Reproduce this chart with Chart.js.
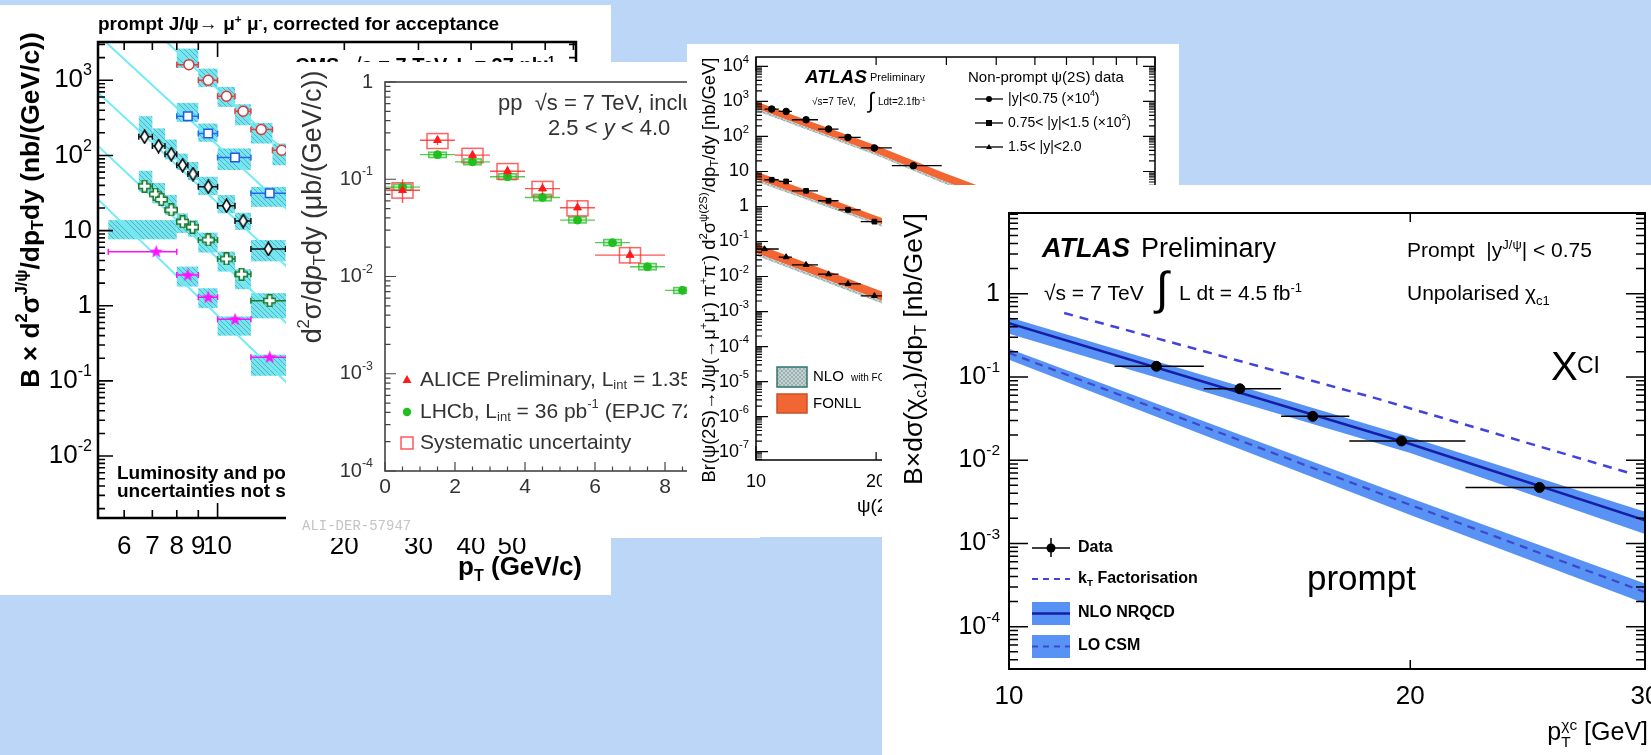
<!DOCTYPE html>
<html>
<head>
<meta charset="utf-8">
<title>Quarkonium production cross sections</title>
<script src="https://cdn.jsdelivr.net/npm/chart.js@4.4.1/dist/chart.umd.min.js"></script>
<style>
  html, body { margin: 0; padding: 0; }
  body { width: 1651px; height: 755px; background: #bbd6f7; position: relative; overflow: hidden; }
  .panel { position: absolute; background: #fff; overflow: hidden; }
  .panel canvas { display: block; }
</style>
</head>
<body>
<div class="panel" style="left:0px;top:5px;width:611px;height:590px"><canvas id="cms" width="611" height="590"></canvas></div>
<div class="panel" style="left:286px;top:62px;width:474px;height:476px"><canvas id="alice" width="474" height="476"></canvas></div>
<div class="panel" style="left:687px;top:44px;width:492px;height:493px"><canvas id="psi2s" width="492" height="493"></canvas></div>
<div class="panel" style="left:882px;top:185px;width:769px;height:570px"><canvas id="chic1" width="769" height="570"></canvas></div>
<script>
// ---------- CMS prompt J/psi, left panel ----------
const CMS_X_LABELS = [6, 7, 8, 9, 10, 20, 30, 40, 50];
const CMS_Y_LABELS = [1e-2, 1e-1, 1, 10, 100, 1000];

const CMS_RED_PT  = [8.55, 9.5, 10.5, 11.5, 12.7, 14.2];
const CMS_RED_VAL = [1615, 1000, 614, 387, 221, 117];
const CMS_RED_BIN = [[8, 9], [9, 10], [10, 11], [11, 12], [12, 13.5], [13.5, 15]];
const CMS_RED_BOX = [[8, 9, 1455, 2640], [9, 10, 815, 1430], [10, 11, 442, 815], [11, 12, 252, 480], [12, 13.5, 144, 271], [13.5, 15, 74, 144]];

const CMS_BLUE_PT  = [8.5, 9.5, 11, 13.3];
const CMS_BLUE_VAL = [333, 196, 94, 31.3];
const CMS_BLUE_BIN = [[8, 9], [9, 10], [10, 12], [12, 15]];
const CMS_BLUE_BOX = [[8, 9, 279, 500], [9, 10, 152, 266], [10, 12, 64, 124], [12, 15, 20.7, 38]];

const CMS_BLACK_PT  = [6.71, 7.24, 7.76, 8.26, 8.74, 9.5, 10.5, 11.5, 13.2];
const CMS_BLACK_VAL = [177, 133, 104, 74, 56.5, 38.3, 21.4, 13.4, 5.7];
const CMS_BLACK_BIN = [[6.5, 7], [7, 7.5], [7.5, 8], [8, 8.5], [8.5, 9], [9, 10], [10, 11], [11, 12], [12, 14.5]];
const CMS_BLACK_BOX = [[6.5, 7, 177, 333], [7, 7.5, 124, 229], [7.5, 8, 88.5, 163], [8, 8.5, 64, 106], [8.5, 9, 47, 82], [9, 10, 29.7, 52], [10, 11, 17, 29.7], [11, 12, 10.2, 17.3], [12, 14.5, 3.9, 7.5]];

const CMS_GREEN_PT  = [6.71, 7.12, 7.35, 7.76, 8.26, 8.72, 9.5, 10.5, 11.4, 13.3];
const CMS_GREEN_VAL = [39, 30.6, 26, 18.8, 13.1, 11.1, 7.5, 4.2, 2.63, 1.17];
const CMS_GREEN_BIN = [[6.5, 7], [7, 7.25], [7.25, 7.5], [7.5, 8], [8, 8.5], [8.5, 9], [9, 10], [10, 11], [11, 12], [12, 15]];
const CMS_GREEN_BOX = [[6.5, 7, 32.9, 62.5], [7, 7.5, 23, 43], [7.5, 8, 16.1, 29.7], [8, 8.5, 9.3, 17], [8.5, 9, 8.3, 13.8], [9, 10, 5.1, 9.4], [10, 11, 2.85, 5.25], [11, 12, 1.66, 3.06], [12, 15, 0.68, 1.47]];

const CMS_MAG_PT  = [7.15, 8.5, 9.5, 11, 13.3];
const CMS_MAG_VAL = [5.25, 2.57, 1.3, 0.66, 0.207];
const CMS_MAG_BIN = [[5.5, 8], [8, 9], [9, 10], [10, 12], [12, 15]];
const CMS_MAG_BOX = [[5.5, 8, 7.65, 13.8], [8, 9, 1.8, 3.32], [9, 10, 0.93, 1.71], [10, 12, 0.4, 0.72], [12, 15, 0.117, 0.223]];

// straight theory lines (log-log), read at both ends
const CMS_LINE_PT = [5.2, 20];
const CMS_RED_LINE = [22600, 21];
const CMS_BLUE_LINE = [4000, 3.8];
const CMS_BLACK_LINE = [685, 0.65];
const CMS_GREEN_LINE = [134, 0.11];
const CMS_MAG_LINE = [26, 0.017];

// ---------- ALICE / LHCb inclusive J/psi ----------
const ALICE_X_LABELS = [0, 2, 4, 6, 8, 10];
const ALICE_Y_LABELS = [1e-4, 1e-3, 1e-2, 1e-1, 1];
const ALICE_PT   = [0.5, 1.5, 2.5, 3.5, 4.5, 5.5, 7.0];
const ALICE_BIN  = [[0, 1], [1, 2], [2, 3], [3, 4], [4, 5], [5, 6], [6, 8]];
const ALICE_VAL  = [0.077, 0.252, 0.177, 0.121, 0.080, 0.051, 0.0166];
const ALICE_STAT = [[0.057, 0.100], [0.225, 0.28], [0.158, 0.198], [0.105, 0.138], [0.069, 0.093], [0.042, 0.061], [0.0135, 0.020]];
const ALICE_SYS  = [[0.064, 0.092], [0.207, 0.295], [0.148, 0.208], [0.100, 0.145], [0.067, 0.095], [0.042, 0.060], [0.0138, 0.0198]];
const LHCB_PT  = [0.5, 1.5, 2.5, 3.5, 4.5, 5.5, 6.5, 7.5, 8.5];
const LHCB_BIN = [[0, 1], [1, 2], [2, 3], [3, 4], [4, 5], [5, 6], [6, 7], [7, 8], [8, 9]];
const LHCB_VAL = [0.083, 0.179, 0.151, 0.106, 0.065, 0.038, 0.0223, 0.0126, 0.0072];
const LHCB_SYS = [[0.077, 0.089], [0.167, 0.19], [0.141, 0.162], [0.099, 0.114], [0.060, 0.070], [0.0355, 0.041], [0.0208, 0.024], [0.0117, 0.0136], [0.0067, 0.0077]];

// ---------- ATLAS non-prompt psi(2S) ----------
const PSI_X_LABELS = [10, 20, 30, 40, 50, 100];
const PSI_Y_LABELS = [1e-7, 1e-6, 1e-5, 1e-4, 1e-3, 1e-2, 1e-1, 1, 10, 100, 1000, 1e4];
const PSI_PT_A  = [10.95, 11.9, 13.35, 15.2, 17.0, 19.8, 24.8];
const PSI_BIN_A = [[10.5, 11.4], [11.4, 12.3], [12.3, 14.3], [14.3, 16.1], [16.1, 18.3], [18.3, 21.9], [21.9, 29.2]];
const PSI_Y1 = [607, 518, 300, 163, 94, 47, 14.6];
const PSI_Y2 = [5.8, 5.2, 2.8, 1.46, 0.8, 0.37];
const PSI_PT_C  = [10.5, 11.9, 13.35, 15.2, 17.0, 19.8];
const PSI_BIN_C = [[10, 11.4], [11.4, 12.3], [12.3, 14.3], [14.3, 16.1], [16.1, 18.3], [18.3, 21.9]];
const PSI_Y3 = [0.061, 0.036, 0.0216, 0.0117, 0.0062, 0.0028];
const FONLL_PT_1 = [10, 20, 29, 40];
const FONLL1_HI = [1000, 55, 10, 2.5];
const FONLL1_LO = [640, 33, 5.8, 1.45];
const NLO1_LO   = [540, 29, 5, 1.25];
const FONLL_PT_23 = [10, 21];
const FONLL2_HI = [10, 0.44];
const FONLL2_LO = [6, 0.29];
const NLO2_LO   = [5.2, 0.25];
const FONLL3_HI = [0.086, 0.0035];
const FONLL3_LO = [0.047, 0.0019];
const NLO3_LO   = [0.04, 0.0016];

// ---------- ATLAS prompt chi_c1 ----------
const CHI_X_LABELS = [10, 20, 30];
const CHI_Y_LABELS = [1e-4, 1e-3, 1e-2, 1e-1, 1];
const CHI_PT  = [12.9, 14.9, 16.9, 19.7, 25.0];
const CHI_BIN = [[12, 14], [14, 16], [16, 18], [18, 22], [22, 30]];
const CHI_VAL = [0.134, 0.072, 0.0336, 0.017, 0.0047];
const THEORY_PT = [10, 20, 30];
const NRQCD_MID = [0.44, 0.0156, 0.0019];
const NRQCD_HI  = [0.52, 0.019, 0.0024];
const NRQCD_LO  = [0.33, 0.0122, 0.0013];
const CSM_MID = [0.194, 0.0029, 0.00026];
const CSM_HI  = [0.218, 0.0035, 0.00033];
const CSM_LO  = [0.161, 0.0022, 0.00019];
const KT_PT  = [11, 18.8, 29.4];
const KT_VAL = [0.585, 0.056, 0.0068];

const SANS = "'Liberation Sans', Arial, Helvetica, sans-serif";

function pts(xs, ys) {
  return xs.map((x, i) => ({ x: x, y: ys[i] }));
}

// small text renderer with sub/superscripts
// parts = [[text, mode]], mode '' | '^' | '_' | 'i' | '_^' (sub text, then sup text in 3rd slot)
function rich(ctx, parts, x, y, o) {
  const font = (m, s) => {
    const st = m === 'i' ? 'italic' : (o.style || 'normal');
    const sz = (m === '^' || m === '_' || m === '_^') ? s * 0.62 : s;
    return st + ' ' + (o.weight || 'normal') + ' ' + sz.toFixed(1) + 'px ' + (o.family || SANS);
  };
  const partWidth = (p, s) => {
    ctx.font = font(p[1], s);
    const w = ctx.measureText(p[0]).width;
    return p[1] === '_^' ? Math.max(w, ctx.measureText(p[2]).width) : w;
  };
  const measure = (s) => parts.reduce((w, p) => w + partWidth(p, s), 0);
  let size = o.size;
  if (o.fit) size = size * o.fit / measure(size);
  const w = measure(size);
  ctx.save();
  ctx.translate(x, y);
  if (o.rotate) ctx.rotate(o.rotate);
  ctx.fillStyle = o.color || '#000';
  ctx.textBaseline = o.baseline || 'alphabetic';
  ctx.textAlign = 'left';
  let cx = o.align === 'right' ? -w : o.align === 'center' ? -w / 2 : 0;
  parts.forEach(p => {
    const pw = partWidth(p, size);
    ctx.font = font(p[1], size);
    if (p[1] === '_^') {
      ctx.fillText(p[0], cx, size * 0.28);
      ctx.fillText(p[2], cx, -size * 0.42);
    } else {
      const dy = p[1] === '^' ? -size * 0.36 : p[1] === '_' ? size * 0.24 : 0;
      ctx.fillText(p[0], cx, dy);
    }
    cx += pw;
  });
  ctx.restore();
  return w;
}

function decade(v) {
  const e = Math.round(Math.log10(v));
  if (e === 0) return [['1']];
  if (e === 1) return [['10']];
  return [['10'], [String(e), '^']];
}

function logTicks(min, max) {
  const out = [];
  for (let e = Math.floor(Math.log10(min)); e <= Math.ceil(Math.log10(max)); e++) {
    for (let d = 1; d < 10; d++) {
      const v = d * Math.pow(10, e);
      if (v >= min * 0.999 && v <= max * 1.001) out.push([v, d === 1]);
    }
  }
  return out;
}

// ROOT style ticks, pointing into the frame
function drawTicks(ctx, chart, axis, list, sides, majLen, minLen) {
  const ca = chart.chartArea, sc = chart.scales[axis];
  ctx.beginPath();
  list.forEach(([v, major]) => {
    const p = sc.getPixelForValue(v);
    const len = major ? majLen : minLen;
    sides.forEach(s => {
      if (s === 'left') { ctx.moveTo(ca.left, p); ctx.lineTo(ca.left + len, p); }
      if (s === 'right') { ctx.moveTo(ca.right, p); ctx.lineTo(ca.right - len, p); }
      if (s === 'bottom') { ctx.moveTo(p, ca.bottom); ctx.lineTo(p, ca.bottom - len); }
      if (s === 'top') { ctx.moveTo(p, ca.top); ctx.lineTo(p, ca.top + len); }
    });
  });
  ctx.stroke();
}

function drawErrorBars(ctx, chart, eb) {
  const X = chart.scales.x, Y = chart.scales.y;
  ctx.strokeStyle = eb.color;
  ctx.lineWidth = eb.width || 1.5;
  ctx.beginPath();
  eb.x.forEach((xv, i) => {
    const px = X.getPixelForValue(xv), py = Y.getPixelForValue(eb.y[i]);
    if (eb.xe && eb.xe[i]) {
      const a = X.getPixelForValue(eb.xe[i][0]), b = X.getPixelForValue(eb.xe[i][1]);
      ctx.moveTo(a, py); ctx.lineTo(b, py);
      if (eb.cap) {
        ctx.moveTo(a, py - eb.cap); ctx.lineTo(a, py + eb.cap);
        ctx.moveTo(b, py - eb.cap); ctx.lineTo(b, py + eb.cap);
      }
    }
    if (eb.ye && eb.ye[i]) {
      ctx.moveTo(px, Y.getPixelForValue(eb.ye[i][0]));
      ctx.lineTo(px, Y.getPixelForValue(eb.ye[i][1]));
    }
  });
  ctx.stroke();
}

function boxRect(chart, b) {
  const X = chart.scales.x, Y = chart.scales.y;
  const x0 = X.getPixelForValue(b[0]), x1 = X.getPixelForValue(b[1]);
  const y0 = Y.getPixelForValue(b[2]), y1 = Y.getPixelForValue(b[3]);
  return [x0, y1, x1 - x0, y0 - y1];
}

function tile(w, h, paint) {
  const c = document.createElement('canvas');
  c.width = w; c.height = h;
  paint(c.getContext('2d'), w, h);
  return c;
}

// hatch patterns
const cyanTile = tile(5, 5, (g, w, h) => {
  g.fillStyle = 'rgb(122,228,238)'; g.fillRect(0, 0, w, h);
  g.strokeStyle = 'rgb(70,182,198)'; g.lineWidth = 1;
  g.beginPath(); g.moveTo(-1, -1); g.lineTo(w + 1, h + 1); g.stroke();
});
const grayTile = tile(4, 4, (g, w, h) => {
  g.fillStyle = 'rgb(196,210,210)'; g.fillRect(0, 0, w, h);
  g.fillStyle = 'rgb(156,178,178)'; g.fillRect(0, 0, 2, 2); g.fillRect(2, 2, 2, 2);
});

// custom markers
const openCross = tile(13, 13, (g) => {
  const c = 6.5, a = 2.2, b = 5.8;
  g.beginPath();
  [[-a, -b], [a, -b], [a, -a], [b, -a], [b, a], [a, a], [a, b], [-a, b], [-a, a], [-b, a], [-b, -a], [-a, -a]]
    .forEach(([dx, dy], i) => i ? g.lineTo(c + dx, c + dy) : g.moveTo(c + dx, c + dy));
  g.closePath();
  g.fillStyle = '#fff'; g.fill();
  g.strokeStyle = '#1b7a2c'; g.lineWidth = 1.6; g.stroke();
});
const star = tile(15, 15, (g) => {
  g.beginPath();
  for (let k = 0; k < 10; k++) {
    const r = k % 2 ? 2.8 : 7, t = -Math.PI / 2 + k * Math.PI / 5;
    const px = 7.5 + r * Math.cos(t), py = 7.8 + r * Math.sin(t);
    k ? g.lineTo(px, py) : g.moveTo(px, py);
  }
  g.closePath();
  g.fillStyle = '#ff10ff'; g.fill();
});
const tallDiamond = tile(11, 15, (g) => {
  g.beginPath();
  g.moveTo(5.5, 1); g.lineTo(9.5, 7.5); g.lineTo(5.5, 14); g.lineTo(1.5, 7.5); g.closePath();
  g.fillStyle = '#fff'; g.fill();
  g.strokeStyle = '#000'; g.lineWidth = 1.5; g.stroke();
});

function markers(xs, ys, style, extra) {
  return Object.assign({
    data: pts(xs, ys), showLine: false, pointStyle: style, pointRadius: 5,
    pointBorderWidth: 1.5, order: 0
  }, extra);
}
function curve(xs, ys, color, width, dash) {
  return {
    data: pts(xs, ys), borderColor: color, borderWidth: width, borderDash: dash || [],
    pointRadius: 0, fill: false, order: 1
  };
}
function bandEdge(xs, ys, fillColor) {
  return {
    data: pts(xs, ys), borderColor: 'rgba(0,0,0,0)', borderWidth: 0, pointRadius: 0,
    fill: fillColor ? '-1' : false, backgroundColor: fillColor || 'rgba(0,0,0,0)', order: 2
  };
}

function rootPlugin(name, under, decorate) {
  const clip = (chart) => {
    const ca = chart.chartArea, ctx = chart.ctx;
    ctx.save();
    ctx.beginPath();
    ctx.rect(ca.left, ca.top, ca.right - ca.left, ca.bottom - ca.top);
    ctx.clip();
  };
  return {
    id: 'root' + name,
    beforeDatasetsDraw(chart) {
      if (!under) return;
      clip(chart); under(chart.ctx, chart); chart.ctx.restore();
    },
    beforeDatasetDraw(chart, args) {
      const eb = chart.data.datasets[args.index].errorBars;
      if (!eb) return;
      clip(chart); drawErrorBars(chart.ctx, chart, eb); chart.ctx.restore();
    },
    afterDraw(chart) {
      chart.ctx.save(); decorate(chart.ctx, chart); chart.ctx.restore();
    }
  };
}

function makeChart(id, o) {
  return new Chart(document.getElementById(id), {
    type: 'line',
    data: { datasets: o.datasets },
    options: {
      responsive: false,
      animation: false,
      devicePixelRatio: 1,
      layout: { padding: o.padding },
      plugins: { legend: { display: false }, tooltip: { enabled: false } },
      scales: {
        x: { type: o.xType, min: o.xMin, max: o.xMax, bounds: 'data', display: false },
        y: { type: 'logarithmic', min: o.yMin, max: o.yMax, bounds: 'data', display: false }
      }
    },
    plugins: [rootPlugin(id, o.under, o.decorate)]
  });
}

// ================= CMS =================
const cmsCyan = 'rgb(112,236,246)';
makeChart('cms', {
  padding: { left: 98, top: 37, right: 35, bottom: 77 },
  xType: 'logarithmic', xMin: 5.2, xMax: 71, yMin: 1.5e-3, yMax: 3230,
  datasets: [
    markers(CMS_RED_PT, CMS_RED_VAL, 'circle', { pointBackgroundColor: '#fff', pointBorderColor: '#d83a3a', pointRadius: 5,
      errorBars: { x: CMS_RED_PT, y: CMS_RED_VAL, xe: CMS_RED_BIN, color: '#e04040', cap: 3 } }),
    markers(CMS_BLUE_PT, CMS_BLUE_VAL, 'rect', { pointBackgroundColor: '#fff', pointBorderColor: '#2058e8', pointRadius: 6,
      errorBars: { x: CMS_BLUE_PT, y: CMS_BLUE_VAL, xe: CMS_BLUE_BIN, color: '#2468f0', cap: 3 } }),
    markers(CMS_BLACK_PT, CMS_BLACK_VAL, tallDiamond, {
      errorBars: { x: CMS_BLACK_PT, y: CMS_BLACK_VAL, xe: CMS_BLACK_BIN, color: '#111', cap: 3 } }),
    markers(CMS_GREEN_PT, CMS_GREEN_VAL, openCross, {
      errorBars: { x: CMS_GREEN_PT, y: CMS_GREEN_VAL, xe: CMS_GREEN_BIN, color: '#1b7a2c', cap: 3 } }),
    markers(CMS_MAG_PT, CMS_MAG_VAL, star, {
      errorBars: { x: CMS_MAG_PT, y: CMS_MAG_VAL, xe: CMS_MAG_BIN, color: '#ff10ff', cap: 3 } }),
    curve(CMS_LINE_PT, CMS_RED_LINE, cmsCyan, 2),
    curve(CMS_LINE_PT, CMS_BLUE_LINE, cmsCyan, 2),
    curve(CMS_LINE_PT, CMS_BLACK_LINE, cmsCyan, 2),
    curve(CMS_LINE_PT, CMS_GREEN_LINE, cmsCyan, 2),
    curve(CMS_LINE_PT, CMS_MAG_LINE, cmsCyan, 2)
  ],
  under(ctx, chart) {
    ctx.fillStyle = ctx.createPattern(cyanTile, 'repeat');
    [CMS_RED_BOX, CMS_BLUE_BOX, CMS_BLACK_BOX, CMS_GREEN_BOX, CMS_MAG_BOX].forEach(list =>
      list.forEach(b => { const r = boxRect(chart, b); ctx.fillRect(r[0], r[1], r[2], r[3]); }));
  },
  decorate(ctx, chart) {
    const ca = chart.chartArea, X = chart.scales.x, Y = chart.scales.y;
    ctx.strokeStyle = '#000';
    ctx.lineWidth = 1.6;
    drawTicks(ctx, chart, 'y', logTicks(Y.min, Y.max), ['left', 'right'], 15, 7);
    drawTicks(ctx, chart, 'x', logTicks(X.min, X.max), ['bottom', 'top'], 15, 8);
    ctx.lineWidth = 2.5;
    ctx.strokeRect(ca.left, ca.top, ca.right - ca.left, ca.bottom - ca.top);
    CMS_Y_LABELS.forEach(v => rich(ctx, decade(v), ca.left - 6, Y.getPixelForValue(v), { size: 26, align: 'right', baseline: 'middle' }));
    CMS_X_LABELS.forEach(v => rich(ctx, [[String(v)]], X.getPixelForValue(v), 542, { size: 26, align: 'center', baseline: 'middle' }));
    rich(ctx, [['prompt J/ψ→ μ'], ['+', '^'], [' μ'], ['-', '^'], [', corrected for acceptance']], 98, 25, { size: 19, weight: 'bold' });
    rich(ctx, [['CMS  √s = 7 TeV, L = 37 nb'], ['-1', '^']], 295, 67, { size: 20, weight: 'bold' });
    rich(ctx, [['B × d'], ['2', '^'], ['σ'], ['J/ψ', '^'], ['/dp'], ['T', '_'], ['dy (nb/(GeV/c))']], 32, 205,
      { size: 22, weight: 'bold', rotate: -Math.PI / 2, align: 'center', baseline: 'middle', fit: 355 });
    rich(ctx, [['p'], ['T', '_'], [' (GeV/c)']], 582, 570, { size: 26, weight: 'bold', align: 'right' });
    rich(ctx, [['Luminosity and polarization']], 117, 474, { size: 19, weight: 'bold' });
    rich(ctx, [['uncertainties not shown']], 117, 492, { size: 19, weight: 'bold' });
  }
});

// ================= ALICE =================
makeChart('alice', {
  padding: { left: 99, top: 20, right: 25, bottom: 67 },
  xType: 'linear', xMin: 0, xMax: 10, yMin: 1e-4, yMax: 1,
  datasets: [
    markers(ALICE_PT, ALICE_VAL, 'triangle', { pointBackgroundColor: '#ff1a1a', pointBorderColor: '#ff1a1a', pointRadius: 4.5, pointBorderWidth: 1,
      errorBars: { x: ALICE_PT, y: ALICE_VAL, xe: ALICE_BIN, ye: ALICE_STAT, color: 'rgba(255,40,40,0.8)', width: 1.4 } }),
    markers(LHCB_PT, LHCB_VAL, 'circle', { pointBackgroundColor: '#1fbf1f', pointBorderColor: '#1fbf1f', pointRadius: 4, pointBorderWidth: 1,
      errorBars: { x: LHCB_PT, y: LHCB_VAL, xe: LHCB_BIN, color: 'rgba(40,190,40,0.8)', width: 1.4 } })
  ],
  under(ctx, chart) {
    ctx.lineWidth = 1.5;
    LHCB_PT.forEach((x, i) => {
      const r = boxRect(chart, [x - 0.25, x + 0.25, LHCB_SYS[i][0], LHCB_SYS[i][1]]);
      ctx.fillStyle = 'rgba(120,220,120,0.35)'; ctx.fillRect(r[0], r[1], r[2], r[3]);
      ctx.strokeStyle = 'rgba(40,190,40,0.75)'; ctx.strokeRect(r[0], r[1], r[2], r[3]);
    });
    ALICE_PT.forEach((x, i) => {
      const r = boxRect(chart, [x - 0.3, x + 0.3, ALICE_SYS[i][0], ALICE_SYS[i][1]]);
      ctx.strokeStyle = 'rgba(255,60,60,0.8)'; ctx.strokeRect(r[0], r[1], r[2], r[3]);
    });
  },
  decorate(ctx, chart) {
    const ca = chart.chartArea, X = chart.scales.x, Y = chart.scales.y;
    ctx.strokeStyle = '#444';
    ctx.lineWidth = 1.2;
    drawTicks(ctx, chart, 'y', logTicks(Y.min, Y.max), ['left'], 11, 5.5);
    const xt = [];
    for (let v = 0; v <= X.max + 1e-9; v += 0.5) xt.push([v, v % 2 === 0]);
    drawTicks(ctx, chart, 'x', xt, ['bottom'], 9, 4.5);
    ctx.lineWidth = 1.6;
    ctx.strokeRect(ca.left, ca.top, ca.right - ca.left, ca.bottom - ca.top);
    const grey = '#333';
    ALICE_Y_LABELS.forEach(v => rich(ctx, decade(v), ca.left - 12, Y.getPixelForValue(v), { size: 20, align: 'right', baseline: 'middle', color: grey }));
    ALICE_X_LABELS.forEach(v => rich(ctx, [[String(v)]], X.getPixelForValue(v), 425, { size: 21, align: 'center', baseline: 'middle', color: grey }));
    rich(ctx, [['d'], ['2', '^'], ['σ/d'], ['p', 'i'], ['T', '_'], ['dy (μb/(GeV/c))']], 28, 145,
      { size: 22, rotate: -Math.PI / 2, align: 'center', baseline: 'middle', fit: 273, color: grey });
    rich(ctx, [['pp  √s = 7 TeV, inclusive J/ψ']], 212, 48, { size: 22, color: grey });
    rich(ctx, [['2.5 < '], ['y', 'i'], [' < 4.0']], 262, 73, { size: 22, color: grey });
    // legend
    ctx.fillStyle = '#ff1a1a';
    ctx.beginPath(); ctx.moveTo(121, 313); ctx.lineTo(125.5, 321); ctx.lineTo(116.5, 321); ctx.closePath(); ctx.fill();
    ctx.fillStyle = '#1fbf1f';
    ctx.beginPath(); ctx.arc(121, 350, 4.2, 0, Math.PI * 2); ctx.fill();
    ctx.strokeStyle = 'rgba(255,60,60,0.85)'; ctx.lineWidth = 1.5;
    ctx.strokeRect(115, 375, 12, 12);
    rich(ctx, [['ALICE Preliminary, L'], ['int', '_'], [' = 1.35 pb'], ['-1', '^']], 134, 318, { size: 21, baseline: 'middle', color: grey });
    rich(ctx, [['LHCb, L'], ['int', '_'], [' = 36 pb'], ['-1', '^'], [' (EPJC 72 (2012) 2100)']], 134, 350, { size: 21, baseline: 'middle', color: grey });
    rich(ctx, [['Systematic uncertainty']], 134, 381, { size: 21, baseline: 'middle', color: grey });
    rich(ctx, [['ALI-DER-57947']], 16, 468, { size: 14, family: "'Liberation Mono', monospace", color: '#c4c4c4' });
  }
});

// ================= ATLAS psi(2S) =================
const orange = 'rgb(242,102,52)';
const grayBand = document.createElement('canvas').getContext('2d').createPattern(grayTile, 'repeat');
makeChart('psi2s', {
  padding: { left: 69, top: 13, right: 24, bottom: 77 },
  xType: 'logarithmic', xMin: 10, xMax: 100, yMin: 5.75e-8, yMax: 1.86e4,
  datasets: [
    markers(PSI_PT_A, PSI_Y1, 'circle', { pointBackgroundColor: '#000', pointBorderColor: '#000', pointRadius: 3.3, pointBorderWidth: 1,
      errorBars: { x: PSI_PT_A, y: PSI_Y1, xe: PSI_BIN_A, color: '#000', width: 1.3 } }),
    markers(PSI_PT_A.slice(0, 6), PSI_Y2, 'rect', { pointBackgroundColor: '#000', pointBorderColor: '#000', pointRadius: 3.3, pointBorderWidth: 1,
      errorBars: { x: PSI_PT_A.slice(0, 6), y: PSI_Y2, xe: PSI_BIN_A.slice(0, 6), color: '#000', width: 1.3 } }),
    markers(PSI_PT_C, PSI_Y3, 'triangle', { pointBackgroundColor: '#000', pointBorderColor: '#000', pointRadius: 3.3, pointBorderWidth: 1,
      errorBars: { x: PSI_PT_C, y: PSI_Y3, xe: PSI_BIN_C, color: '#000', width: 1.3 } }),
    bandEdge(FONLL_PT_1, NLO1_LO), bandEdge(FONLL_PT_1, FONLL1_LO, grayBand), bandEdge(FONLL_PT_1, FONLL1_HI, orange),
    bandEdge(FONLL_PT_23, NLO2_LO), bandEdge(FONLL_PT_23, FONLL2_LO, grayBand), bandEdge(FONLL_PT_23, FONLL2_HI, orange),
    bandEdge(FONLL_PT_23, NLO3_LO), bandEdge(FONLL_PT_23, FONLL3_LO, grayBand), bandEdge(FONLL_PT_23, FONLL3_HI, orange)
  ],
  decorate(ctx, chart) {
    const ca = chart.chartArea, X = chart.scales.x, Y = chart.scales.y;
    ctx.strokeStyle = '#000';
    ctx.lineWidth = 1.2;
    drawTicks(ctx, chart, 'y', logTicks(Y.min, Y.max), ['left', 'right'], 12, 6);
    drawTicks(ctx, chart, 'x', logTicks(X.min, X.max), ['bottom', 'top'], 14, 8);
    ctx.lineWidth = 1.5;
    ctx.strokeRect(ca.left, ca.top, ca.right - ca.left, ca.bottom - ca.top);
    PSI_Y_LABELS.forEach(v => rich(ctx, decade(v), ca.left - 7, Y.getPixelForValue(v), { size: 18, align: 'right', baseline: 'middle' }));
    PSI_X_LABELS.forEach(v => rich(ctx, [[String(v)]], X.getPixelForValue(v), 438, { size: 18, align: 'center', baseline: 'middle' }));
    rich(ctx, [['Br(ψ(2S)→J/ψ(→μ'], ['+', '^'], ['μ'], ['-', '^'], [') π'], ['+', '^'], ['π'], ['-', '^'], [') d'], ['2', '^'], ['σ'], ['ψ(2S)', '^'], ['/dp'], ['T', '_'], ['/dy [nb/GeV]']],
      23, 226, { size: 17, rotate: -Math.PI / 2, align: 'center', baseline: 'middle', fit: 424 });
    rich(ctx, [['ψ(2S) p'], ['T', '_'], [' [GeV]']], 170, 468, { size: 19 });
    rich(ctx, [['ATLAS']], 118, 39, { size: 19, weight: 'bold', style: 'italic' });
    rich(ctx, [['Preliminary']], 183, 37, { size: 11 });
    rich(ctx, [['√s=7 TeV,']], 125, 61, { size: 10 });
    rich(ctx, [['∫']], 181, 58, { size: 22, baseline: 'middle' });
    rich(ctx, [['Ldt=2.1fb'], ['-1', '^']], 191, 61, { size: 10 });
    rich(ctx, [['Non-prompt ψ(2S) data']], 281, 38, { size: 15 });
    // legend with marker + line
    const rows = [55, 79, 103];
    ctx.strokeStyle = '#000'; ctx.lineWidth = 1.3; ctx.fillStyle = '#000';
    rows.forEach((ry, k) => {
      ctx.beginPath(); ctx.moveTo(288, ry); ctx.lineTo(316, ry); ctx.stroke();
      ctx.beginPath();
      if (k === 0) ctx.arc(302, ry, 3, 0, Math.PI * 2);
      if (k === 1) ctx.rect(299, ry - 3, 6, 6);
      if (k === 2) { ctx.moveTo(302, ry - 3); ctx.lineTo(305, ry + 2); ctx.lineTo(299, ry + 2); ctx.closePath(); }
      ctx.fill();
    });
    rich(ctx, [['|y|<0.75 (×10'], ['4', '^'], [')']], 321, 55, { size: 14, baseline: 'middle' });
    rich(ctx, [['0.75< |y|<1.5 (×10'], ['2', '^'], [')']], 321, 79, { size: 14, baseline: 'middle' });
    rich(ctx, [['1.5< |y|<2.0']], 321, 103, { size: 14, baseline: 'middle' });
    ctx.fillStyle = ctx.createPattern(grayTile, 'repeat');
    ctx.fillRect(90, 323, 30, 20);
    ctx.strokeStyle = 'rgb(50,115,115)'; ctx.lineWidth = 1.5; ctx.strokeRect(90, 323, 30, 20);
    ctx.fillStyle = orange; ctx.fillRect(90, 350, 30, 19);
    ctx.strokeStyle = 'rgb(200,80,40)'; ctx.strokeRect(90, 350, 30, 19);
    rich(ctx, [['NLO']], 126, 333, { size: 15, baseline: 'middle' });
    rich(ctx, [['with FONLL fragmentation']], 164, 334, { size: 10, baseline: 'middle' });
    rich(ctx, [['FONLL']], 126, 360, { size: 15, baseline: 'middle' });
  }
});

// ================= ATLAS chi_c1 =================
const chiBand = 'rgb(88,146,244)';
const nrqcdBlue = 'rgb(22,30,165)';
const csmBlue = 'rgb(62,72,205)';
const ktBlue = 'rgb(66,66,222)';
makeChart('chic1', {
  padding: { left: 127, top: 28, right: 1, bottom: 86 },
  xType: 'logarithmic', xMin: 10, xMax: 30, yMin: 3.1e-5, yMax: 9.3,
  datasets: [
    markers(CHI_PT, CHI_VAL, 'circle', { pointBackgroundColor: '#000', pointBorderColor: '#000', pointRadius: 5, pointBorderWidth: 1,
      errorBars: { x: CHI_PT, y: CHI_VAL, xe: CHI_BIN, color: '#000', width: 1.5 } }),
    curve(THEORY_PT, NRQCD_MID, nrqcdBlue, 2.5),
    curve(THEORY_PT, CSM_MID, csmBlue, 2.2, [8, 6]),
    curve(KT_PT, KT_VAL, ktBlue, 2.5, [9, 7]),
    bandEdge(THEORY_PT, NRQCD_LO), bandEdge(THEORY_PT, NRQCD_HI, chiBand),
    bandEdge(THEORY_PT, CSM_LO), bandEdge(THEORY_PT, CSM_HI, chiBand)
  ],
  decorate(ctx, chart) {
    const ca = chart.chartArea, X = chart.scales.x, Y = chart.scales.y;
    ctx.strokeStyle = '#000';
    ctx.lineWidth = 1.5;
    drawTicks(ctx, chart, 'y', logTicks(Y.min, Y.max), ['left', 'right'], 19, 9);
    drawTicks(ctx, chart, 'x', [[20, true]], ['bottom', 'top'], 9, 9);
    ctx.lineWidth = 2;
    ctx.strokeRect(ca.left, ca.top, ca.right - ca.left, ca.bottom - ca.top);
    CHI_Y_LABELS.forEach(v => rich(ctx, decade(v), ca.left - 9, Y.getPixelForValue(v), { size: 25, align: 'right', baseline: 'middle' }));
    CHI_X_LABELS.forEach(v => rich(ctx, [[String(v)]], X.getPixelForValue(v), 512, { size: 26, align: 'center', baseline: 'middle' }));
    rich(ctx, [['B×dσ(χ'], ['c1', '_'], [')/dp'], ['T', '_'], [' [nb/GeV]']], 33, 164,
      { size: 26, rotate: -Math.PI / 2, align: 'center', baseline: 'middle', fit: 272 });
    rich(ctx, [['p'], ['T', '_^', 'χc'], [' [GeV]']], 766, 555, { size: 25, align: 'right' });
    rich(ctx, [['ATLAS']], 160, 72, { size: 27, weight: 'bold', style: 'italic' });
    rich(ctx, [['Preliminary']], 259, 72, { size: 27 });
    rich(ctx, [['√s = 7 TeV']], 162, 115, { size: 21 });
    rich(ctx, [['∫']], 274, 106, { size: 46, baseline: 'middle' });
    rich(ctx, [['L dt = 4.5 fb'], ['-1', '^']], 297, 115, { size: 21 });
    rich(ctx, [['Prompt  |y'], ['J/ψ', '^'], ['| < 0.75']], 525, 72, { size: 21 });
    rich(ctx, [['Unpolarised χ'], ['c1', '_']], 525, 115, { size: 21 });
    rich(ctx, [['Χ']], 669, 195, { size: 40 });
    rich(ctx, [['CI']], 695, 188, { size: 23 });
    rich(ctx, [['prompt']], 425, 405, { size: 35 });
    // legend
    ctx.strokeStyle = '#000'; ctx.lineWidth = 1.5;
    ctx.beginPath();
    ctx.moveTo(150, 363); ctx.lineTo(188, 363); ctx.moveTo(169, 353); ctx.lineTo(169, 372); ctx.stroke();
    ctx.fillStyle = '#000'; ctx.beginPath(); ctx.arc(169, 363, 4.5, 0, Math.PI * 2); ctx.fill();
    ctx.strokeStyle = ktBlue; ctx.lineWidth = 2; ctx.setLineDash([6, 5]);
    ctx.beginPath(); ctx.moveTo(150, 394); ctx.lineTo(188, 394); ctx.stroke();
    ctx.setLineDash([]);
    ctx.fillStyle = chiBand; ctx.fillRect(150, 417, 38, 23); ctx.fillRect(150, 450, 38, 23);
    ctx.strokeStyle = nrqcdBlue; ctx.lineWidth = 2.5;
    ctx.beginPath(); ctx.moveTo(150, 428.5); ctx.lineTo(188, 428.5); ctx.stroke();
    ctx.strokeStyle = csmBlue; ctx.lineWidth = 2; ctx.setLineDash([6, 5]);
    ctx.beginPath(); ctx.moveTo(150, 461.5); ctx.lineTo(188, 461.5); ctx.stroke();
    ctx.setLineDash([]);
    rich(ctx, [['Data']], 196, 363, { size: 16, weight: 'bold', baseline: 'middle' });
    rich(ctx, [['k'], ['T', '_'], [' Factorisation']], 196, 394, { size: 16, weight: 'bold', baseline: 'middle' });
    rich(ctx, [['NLO NRQCD']], 196, 428, { size: 16, weight: 'bold', baseline: 'middle' });
    rich(ctx, [['LO CSM']], 196, 461, { size: 16, weight: 'bold', baseline: 'middle' });
  }
});
</script>
</body>
</html>
